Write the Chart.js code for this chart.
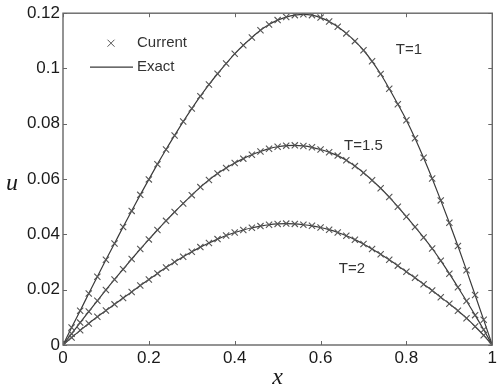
<!DOCTYPE html>
<html><head><meta charset="utf-8">
<script src="https://cdn.jsdelivr.net/npm/chart.js@4.4.0/dist/chart.umd.min.js"></script>
<style>html,body{margin:0;padding:0;background:#fff}#wrap{width:500px;height:390px}</style>
</head><body><div id="wrap"><canvas id="c" width="500" height="390"></canvas></div>
<script>
const xValues = [0,0.02,0.04,0.06,0.08,0.10,0.12,0.14,0.16,0.18,0.20,0.22,0.24,0.26,0.28,0.30,0.32,0.34,0.36,0.38,0.40,0.42,0.44,0.46,0.48,0.50,0.52,0.54,0.56,0.58,0.60,0.62,0.64,0.66,0.68,0.70,0.72,0.74,0.76,0.78,0.80,0.82,0.84,0.86,0.88,0.90,0.92,0.94,0.96,0.98,1.00];
const uT1 = [0,0.0063,0.0124,0.0186,0.0247,0.0308,0.0367,0.0427,0.0485,0.0543,0.0599,0.0654,0.0707,0.0758,0.0808,0.0855,0.0900,0.0942,0.0981,0.1018,0.1053,0.1084,0.1112,0.1138,0.1159,0.1175,0.1186,0.1193,0.1196,0.1193,0.1184,0.1170,0.1151,0.1127,0.1099,0.1066,0.1026,0.0980,0.0927,0.0871,0.0813,0.0748,0.0677,0.0602,0.0523,0.0442,0.0358,0.0270,0.0181,0.0091,0];
const uT15 = [0,0.0041,0.0081,0.0121,0.0160,0.0199,0.0237,0.0274,0.0311,0.0347,0.0382,0.0416,0.0449,0.0481,0.0512,0.0542,0.0571,0.0597,0.0620,0.0640,0.0658,0.0674,0.0688,0.0700,0.0710,0.0717,0.0721,0.0722,0.0720,0.0715,0.0707,0.0697,0.0685,0.0668,0.0647,0.0623,0.0596,0.0567,0.0535,0.0500,0.0464,0.0427,0.0389,0.0349,0.0305,0.0258,0.0209,0.0159,0.0108,0.0055,0];
const uT2 = [0,0.0027,0.0053,0.0078,0.0102,0.0125,0.0147,0.0170,0.0192,0.0215,0.0237,0.0259,0.0280,0.0300,0.0319,0.0337,0.0354,0.0369,0.0383,0.0396,0.0407,0.0416,0.0424,0.0430,0.0435,0.0438,0.0439,0.0438,0.0435,0.0431,0.0425,0.0417,0.0407,0.0395,0.0381,0.0365,0.0347,0.0328,0.0308,0.0287,0.0265,0.0243,0.0220,0.0197,0.0173,0.0149,0.0124,0.0097,0.0067,0.0035,0];
const seriesNames = ['T=1','T=1.5','T=2'];
const seriesValues = [uT1, uT15, uT2];
const xTicks = [0,0.2,0.4,0.6,0.8,1];
const yTicks = [0,0.02,0.04,0.06,0.08,0.1,0.12];
const legendNames = ['Current','Exact'];
const axisTitles = ['x','u'];
// label anchor points in data units
const labelX = [0.806, 0.70, 0.673];
const labelY = [0.1068, 0.0719, 0.0277];

const lineColor = '#3a3a3a';
const markColor = '#555';
const toXY = arr => arr.map((v,i)=>({x:xValues[i], y:v}));

const datasets = [];
seriesValues.forEach((vals, k) => {
  datasets.push({label: 'Exact ' + seriesNames[k], data: toXY(vals), borderColor: lineColor, borderWidth: 1.2,
    pointRadius: 0, cubicInterpolationMode: 'monotone', fill: false, order: 2});
  datasets.push({label: 'Current ' + seriesNames[k], data: toXY(vals), showLine: false, pointStyle: 'crossRot',
    pointRadius: 4.4, pointBorderColor: markColor, pointBorderWidth: 1.1, pointBackgroundColor: markColor, order: 1});
});

const decor = {
  id: 'decor',
  afterDraw(chart) {
    const {ctx, chartArea: a, scales} = chart;
    const xs = scales.x, ys = scales.y;
    ctx.save();
    // box
    ctx.strokeStyle = '#666';
    ctx.lineWidth = 1.4;
    ctx.strokeRect(a.left, a.top, a.right - a.left, a.bottom - a.top);
    // inward ticks on all sides
    ctx.lineWidth = 1;
    ctx.beginPath();
    xTicks.forEach(t => {
      const px = Math.round(xs.getPixelForValue(t)) + 0.5;
      ctx.moveTo(px, a.bottom); ctx.lineTo(px, a.bottom - 4);
      ctx.moveTo(px, a.top); ctx.lineTo(px, a.top + 4);
    });
    yTicks.forEach(t => {
      const py = Math.round(ys.getPixelForValue(t)) + 0.5;
      ctx.moveTo(a.left, py); ctx.lineTo(a.left + 4, py);
      ctx.moveTo(a.right, py); ctx.lineTo(a.right - 4, py);
    });
    ctx.stroke();
    // series labels
    ctx.fillStyle = '#333';
    ctx.font = '15px "Liberation Sans", Arial, sans-serif';
    ctx.textAlign = 'center';
    ctx.textBaseline = 'middle';
    seriesNames.forEach((n, i) => {
      ctx.fillText(n, xs.getPixelForValue(labelX[i]), ys.getPixelForValue(labelY[i]));
    });
    // legend
    const lx = a.left + 48, ly1 = a.top + 30, ly2 = a.top + 54;
    ctx.strokeStyle = markColor;
    ctx.lineWidth = 1;
    ctx.beginPath();
    ctx.moveTo(lx - 3.5, ly1 - 3.5); ctx.lineTo(lx + 3.5, ly1 + 3.5);
    ctx.moveTo(lx - 3.5, ly1 + 3.5); ctx.lineTo(lx + 3.5, ly1 - 3.5);
    ctx.stroke();
    ctx.strokeStyle = lineColor;
    ctx.lineWidth = 1.2;
    ctx.beginPath();
    ctx.moveTo(a.left + 27, ly2); ctx.lineTo(a.left + 70, ly2);
    ctx.stroke();
    ctx.textAlign = 'left';
    ctx.fillStyle = '#333';
    ctx.font = '15px "Liberation Sans", Arial, sans-serif';
    ctx.fillText(legendNames[0], a.left + 74, ly1);
    ctx.fillText(legendNames[1], a.left + 74, ly2);
    // y axis title (upright, as in the reference)
    ctx.fillStyle = '#1a1a1a';
    ctx.font = 'italic 24px "Liberation Serif", "Times New Roman", serif';
    ctx.textAlign = 'center';
    ctx.fillText(axisTitles[1], 12, (a.top + a.bottom) / 2 + 5);
    ctx.restore();
  }
};

new Chart(document.getElementById('c'), {
  type: 'line',
  data: {datasets},
  options: {
    responsive: false, animation: false, devicePixelRatio: 1,
    layout: {padding: {top: 7, right: 5, left: 0, bottom: 0}},
    plugins: {legend: {display: false}, tooltip: {enabled: false}},
    scales: {
      x: {type: 'linear', min: 0, max: 1,
        afterBuildTicks: s => { s.ticks = xTicks.map(v => ({value: v})); },
        afterFit: s => { s.height = 45; },
        grid: {display: false, drawTicks: false}, border: {display: false},
        ticks: {padding: 3, color: '#1a1a1a', font: {family: '"Liberation Sans", Arial, sans-serif', size: 17},
          callback: v => String(v)},
        title: {display: true, text: axisTitles[0], color: '#1a1a1a', padding: {top: 0, bottom: -2},
          font: {family: '"Liberation Serif", "Times New Roman", serif', size: 24, style: 'italic'}}
      },
      y: {type: 'linear', min: 0, max: 0.12,
        afterBuildTicks: s => { s.ticks = yTicks.map(v => ({value: v})); },
        afterFit: s => { s.width = 63; },
        grid: {display: false, drawTicks: false}, border: {display: false},
        ticks: {padding: 3, color: '#1a1a1a', font: {family: '"Liberation Sans", Arial, sans-serif', size: 17},
          callback: v => String(v)},
        title: {display: false}
      }
    }
  },
  plugins: [decor]
});
</script></body></html>
